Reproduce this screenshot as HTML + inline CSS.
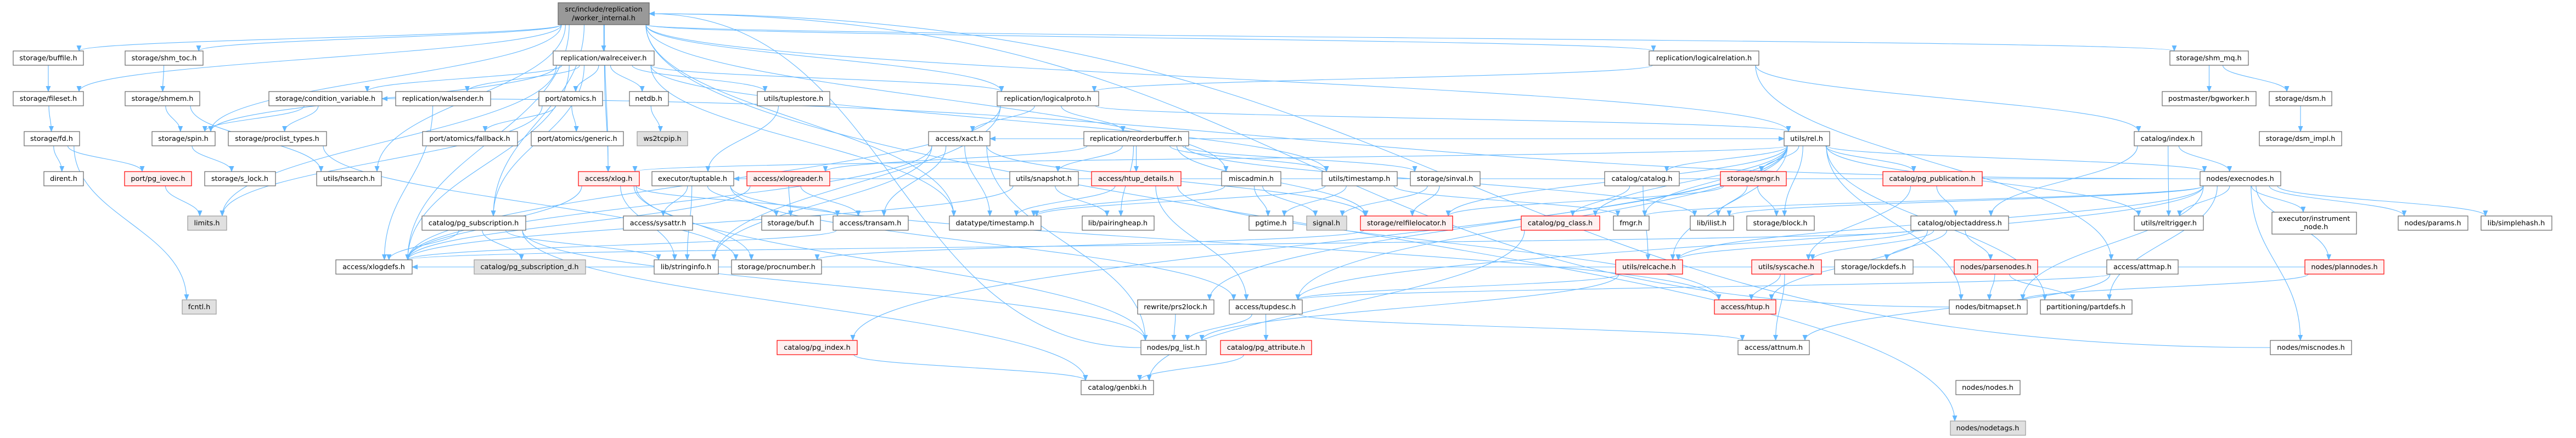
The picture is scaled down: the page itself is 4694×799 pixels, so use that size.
<!DOCTYPE html>
<html><head><meta charset="utf-8">
<style>
html,body{margin:0;padding:0;background:#fff;}
svg{display:block;}
text{font-family:"DejaVu Sans","Liberation Sans",sans-serif;font-size:12.8px;fill:#000;text-anchor:middle;}
.n rect{fill:#fff;stroke:#666;stroke-width:1.2;}
.r rect{fill:#fff0f0;stroke:#f00;stroke-width:1.2;}
.g rect{fill:#e0e0e0;stroke:#999;stroke-width:1.2;}
.root rect{fill:#999;stroke:#666;stroke-width:1.2;}
#edges path{fill:none;stroke:#63b8ff;stroke-width:1.1;}
</style></head>
<body>
<svg id="svg" width="4694" height="799" viewBox="0 0 4694 799" xmlns="http://www.w3.org/2000/svg">
<defs><marker id="ah" markerWidth="11" markerHeight="9" refX="10" refY="4.5" orient="auto" markerUnits="userSpaceOnUse"><path d="M0,0 L11,4.5 L0,9 Z" fill="#63b8ff"/></marker></defs>
<g id="edges"></g>
<g id="nodes">
<g class="root" id="root"><rect x="1017" y="5" width="166" height="40"/><text x="1100" y="21">src/include/replication</text><text x="1100" y="37">/worker_internal.h</text></g>
<g class="n" id="buffile"><rect x="24" y="93" width="128" height="26"/><text x="88" y="110">storage/buffile.h</text></g>
<g class="n" id="shm_toc"><rect x="228" y="93" width="142" height="26"/><text x="299" y="110">storage/shm_toc.h</text></g>
<g class="n" id="walreceiver"><rect x="1008" y="93" width="184" height="26"/><text x="1100" y="110">replication/walreceiver.h</text></g>
<g class="n" id="logicalrelation"><rect x="3005" y="93" width="200" height="26"/><text x="3105" y="110">replication/logicalrelation.h</text></g>
<g class="n" id="shm_mq"><rect x="3954" y="93" width="143" height="26"/><text x="4025" y="110">storage/shm_mq.h</text></g>
<g class="n" id="fileset"><rect x="24" y="167" width="128" height="26"/><text x="88" y="184">storage/fileset.h</text></g>
<g class="n" id="shmem"><rect x="228" y="167" width="136" height="26"/><text x="296" y="184">storage/shmem.h</text></g>
<g class="n" id="condvar"><rect x="490" y="167" width="206" height="26"/><text x="593" y="184">storage/condition_variable.h</text></g>
<g class="n" id="walsender"><rect x="721" y="167" width="173" height="26"/><text x="807" y="184">replication/walsender.h</text></g>
<g class="n" id="atomics"><rect x="982" y="167" width="116" height="26"/><text x="1040" y="184">port/atomics.h</text></g>
<g class="n" id="netdb"><rect x="1147" y="167" width="71" height="26"/><text x="1182" y="184">netdb.h</text></g>
<g class="n" id="tuplestore"><rect x="1380" y="167" width="132" height="26"/><text x="1446" y="184">utils/tuplestore.h</text></g>
<g class="n" id="logicalproto"><rect x="1817" y="167" width="185" height="26"/><text x="1909" y="184">replication/logicalproto.h</text></g>
<g class="n" id="bgworker"><rect x="3940" y="167" width="171" height="26"/><text x="4025" y="184">postmaster/bgworker.h</text></g>
<g class="n" id="dsm"><rect x="4135" y="167" width="114" height="26"/><text x="4192" y="184">storage/dsm.h</text></g>
<g class="n" id="fd"><rect x="44" y="240" width="101" height="26"/><text x="94" y="257">storage/fd.h</text></g>
<g class="n" id="spin"><rect x="277" y="240" width="115" height="26"/><text x="334" y="257">storage/spin.h</text></g>
<g class="n" id="proclist"><rect x="416" y="240" width="179" height="26"/><text x="505" y="257">storage/proclist_types.h</text></g>
<g class="n" id="fallback"><rect x="770" y="240" width="173" height="26"/><text x="856" y="257">port/atomics/fallback.h</text></g>
<g class="n" id="generic"><rect x="968" y="240" width="168" height="26"/><text x="1052" y="257">port/atomics/generic.h</text></g>
<g class="g" id="ws2tcpip"><rect x="1161" y="240" width="92" height="26"/><text x="1207" y="257">ws2tcpip.h</text></g>
<g class="n" id="xact"><rect x="1692" y="240" width="112" height="26"/><text x="1748" y="257">access/xact.h</text></g>
<g class="n" id="reorderbuffer"><rect x="1975" y="240" width="191" height="26"/><text x="2070" y="257">replication/reorderbuffer.h</text></g>
<g class="n" id="rel"><rect x="3251" y="240" width="83" height="26"/><text x="3292" y="257">utils/rel.h</text></g>
<g class="n" id="index"><rect x="3889" y="240" width="123" height="26"/><text x="3950" y="257">catalog/index.h</text></g>
<g class="n" id="dsm_impl"><rect x="4117" y="240" width="150" height="26"/><text x="4192" y="257">storage/dsm_impl.h</text></g>
<g class="n" id="dirent"><rect x="80" y="313" width="72" height="26"/><text x="116" y="330">dirent.h</text></g>
<g class="r" id="pg_iovec"><rect x="227" y="313" width="122" height="26"/><text x="288" y="330">port/pg_iovec.h</text></g>
<g class="n" id="s_lock"><rect x="373" y="313" width="129" height="26"/><text x="437" y="330">storage/s_lock.h</text></g>
<g class="n" id="hsearch"><rect x="577" y="313" width="118" height="26"/><text x="636" y="330">utils/hsearch.h</text></g>
<g class="r" id="xlog"><rect x="1054" y="313" width="111" height="26"/><text x="1109" y="330">access/xlog.h</text></g>
<g class="n" id="tuptable"><rect x="1188" y="313" width="149" height="26"/><text x="1262" y="330">executor/tuptable.h</text></g>
<g class="r" id="xlogreader"><rect x="1361" y="313" width="151" height="26"/><text x="1436" y="330">access/xlogreader.h</text></g>
<g class="n" id="snapshot"><rect x="1840" y="313" width="125" height="26"/><text x="1902" y="330">utils/snapshot.h</text></g>
<g class="r" id="htup_details"><rect x="1989" y="313" width="163" height="26"/><text x="2070" y="330">access/htup_details.h</text></g>
<g class="n" id="miscadmin"><rect x="2226" y="313" width="108" height="26"/><text x="2280" y="330">miscadmin.h</text></g>
<g class="n" id="utimestamp"><rect x="2409" y="313" width="137" height="26"/><text x="2477" y="330">utils/timestamp.h</text></g>
<g class="n" id="sinval"><rect x="2570" y="313" width="127" height="26"/><text x="2633" y="330">storage/sinval.h</text></g>
<g class="n" id="catalog"><rect x="2924" y="313" width="136" height="26"/><text x="2992" y="330">catalog/catalog.h</text></g>
<g class="r" id="smgr"><rect x="3135" y="313" width="120" height="26"/><text x="3195" y="330">storage/smgr.h</text></g>
<g class="r" id="pg_publication"><rect x="3431" y="313" width="181" height="26"/><text x="3521" y="330">catalog/pg_publication.h</text></g>
<g class="n" id="execnodes"><rect x="4009" y="313" width="147" height="26"/><text x="4082" y="330">nodes/execnodes.h</text></g>
<g class="g" id="limits"><rect x="342" y="394" width="71" height="26"/><text x="377" y="411">limits.h</text></g>
<g class="n" id="pg_subscription"><rect x="769" y="394" width="189" height="26"/><text x="863" y="411">catalog/pg_subscription.h</text></g>
<g class="n" id="sysattr"><rect x="1136" y="394" width="126" height="26"/><text x="1199" y="411">access/sysattr.h</text></g>
<g class="n" id="buf"><rect x="1388" y="394" width="107" height="26"/><text x="1441" y="411">storage/buf.h</text></g>
<g class="n" id="transam"><rect x="1518" y="394" width="137" height="26"/><text x="1586" y="411">access/transam.h</text></g>
<g class="n" id="dtimestamp"><rect x="1730" y="394" width="167" height="26"/><text x="1813" y="411">datatype/timestamp.h</text></g>
<g class="n" id="pairingheap"><rect x="1972" y="394" width="131" height="26"/><text x="2037" y="411">lib/pairingheap.h</text></g>
<g class="n" id="pgtime"><rect x="2276" y="394" width="80" height="26"/><text x="2316" y="411">pgtime.h</text></g>
<g class="g" id="signal"><rect x="2381" y="394" width="73" height="26"/><text x="2417" y="411">signal.h</text></g>
<g class="r" id="relfilelocator"><rect x="2479" y="394" width="168" height="26"/><text x="2563" y="411">storage/relfilelocator.h</text></g>
<g class="r" id="pg_class"><rect x="2772" y="394" width="143" height="26"/><text x="2843" y="411">catalog/pg_class.h</text></g>
<g class="n" id="fmgr"><rect x="2940" y="394" width="65" height="26"/><text x="2972" y="411">fmgr.h</text></g>
<g class="n" id="ilist"><rect x="3080" y="394" width="79" height="26"/><text x="3119" y="411">lib/ilist.h</text></g>
<g class="n" id="block"><rect x="3183" y="394" width="123" height="26"/><text x="3244" y="411">storage/block.h</text></g>
<g class="n" id="objectaddress"><rect x="3482" y="394" width="178" height="26"/><text x="3571" y="411">catalog/objectaddress.h</text></g>
<g class="n" id="reltrigger"><rect x="3889" y="394" width="126" height="26"/><text x="3952" y="411">utils/reltrigger.h</text></g>
<g class="n" id="instrument"><rect x="4140" y="387" width="154" height="40"/><text x="4217" y="403">executor/instrument</text><text x="4217" y="418">_node.h</text></g>
<g class="n" id="params"><rect x="4370" y="394" width="127" height="26"/><text x="4433" y="411">nodes/params.h</text></g>
<g class="n" id="simplehash"><rect x="4521" y="394" width="129" height="26"/><text x="4585" y="411">lib/simplehash.h</text></g>
<g class="n" id="xlogdefs"><rect x="612" y="474" width="139" height="26"/><text x="681" y="491">access/xlogdefs.h</text></g>
<g class="g" id="pg_subscription_d"><rect x="864" y="474" width="203" height="26"/><text x="965" y="491">catalog/pg_subscription_d.h</text></g>
<g class="n" id="stringinfo"><rect x="1192" y="474" width="117" height="26"/><text x="1250" y="491">lib/stringinfo.h</text></g>
<g class="n" id="procnumber"><rect x="1333" y="474" width="164" height="26"/><text x="1415" y="491">storage/procnumber.h</text></g>
<g class="r" id="relcache"><rect x="2944" y="474" width="122" height="26"/><text x="3005" y="491">utils/relcache.h</text></g>
<g class="r" id="syscache"><rect x="3192" y="474" width="127" height="26"/><text x="3255" y="491">utils/syscache.h</text></g>
<g class="n" id="lockdefs"><rect x="3343" y="474" width="143" height="26"/><text x="3414" y="491">storage/lockdefs.h</text></g>
<g class="r" id="parsenodes"><rect x="3561" y="474" width="152" height="26"/><text x="3637" y="491">nodes/parsenodes.h</text></g>
<g class="n" id="attmap"><rect x="3839" y="474" width="130" height="26"/><text x="3904" y="491">access/attmap.h</text></g>
<g class="r" id="plannodes"><rect x="4200" y="474" width="144" height="26"/><text x="4272" y="491">nodes/plannodes.h</text></g>
<g class="g" id="fcntl"><rect x="332" y="547" width="62" height="26"/><text x="363" y="564">fcntl.h</text></g>
<g class="n" id="prs2lock"><rect x="2073" y="547" width="139" height="26"/><text x="2142" y="564">rewrite/prs2lock.h</text></g>
<g class="n" id="tupdesc"><rect x="2240" y="547" width="133" height="26"/><text x="2306" y="564">access/tupdesc.h</text></g>
<g class="r" id="htup"><rect x="3124" y="547" width="112" height="26"/><text x="3180" y="564">access/htup.h</text></g>
<g class="n" id="bitmapset"><rect x="3552" y="547" width="142" height="26"/><text x="3623" y="564">nodes/bitmapset.h</text></g>
<g class="n" id="partdefs"><rect x="3718" y="547" width="167" height="26"/><text x="3801" y="564">partitioning/partdefs.h</text></g>
<g class="r" id="pg_index"><rect x="1416" y="621" width="146" height="26"/><text x="1489" y="638">catalog/pg_index.h</text></g>
<g class="n" id="pg_list"><rect x="2079" y="621" width="119" height="26"/><text x="2138" y="638">nodes/pg_list.h</text></g>
<g class="r" id="pg_attribute"><rect x="2224" y="621" width="166" height="26"/><text x="2307" y="638">catalog/pg_attribute.h</text></g>
<g class="n" id="attnum"><rect x="3167" y="621" width="130" height="26"/><text x="3232" y="638">access/attnum.h</text></g>
<g class="n" id="miscnodes"><rect x="4137" y="621" width="148" height="26"/><text x="4211" y="638">nodes/miscnodes.h</text></g>
<g class="n" id="genbki"><rect x="1970" y="694" width="132" height="26"/><text x="2036" y="711">catalog/genbki.h</text></g>
<g class="n" id="nodes"><rect x="3564" y="694" width="117" height="26"/><text x="3622" y="711">nodes/nodes.h</text></g>
<g class="g" id="nodetags"><rect x="3554" y="768" width="137" height="26"/><text x="3622" y="785">nodes/nodetags.h</text></g>
</g>
</svg>
<script>
(function(){
var E="root>buffile root>fileset root>shm_toc root>spin root>xlogdefs root>walreceiver root>xlog root>logicalproto root>miscadmin root>logicalrelation root>shm_mq root>dtimestamp root>rel root>pg_subscription root>hsearch "+
"walreceiver>condvar walreceiver>walsender walreceiver>atomics walreceiver>netdb walreceiver>tuplestore walreceiver>spin walreceiver>xlogdefs walreceiver>limits walreceiver>logicalproto walreceiver>xlog walreceiver>dtimestamp walreceiver>utimestamp walreceiver>pg_subscription "+
"buffile>fileset fileset>fd fd>dirent fd>pg_iovec fd>fcntl pg_iovec>limits shm_toc>shmem shmem>spin shmem>hsearch spin>s_lock condvar>spin condvar>proclist proclist>procnumber walsender>xlogdefs atomics>fallback atomics>generic atomics>limits netdb>ws2tcpip tuplestore>tuptable "+
"tuptable>sysattr tuptable>buf tuptable>htup tuptable>tupdesc tuptable>stringinfo xlogreader>buf xlogreader>transam xlogreader>xlogdefs xlog>xlogdefs xlog>stringinfo xlog>pg_list xlog>transam xlog>procnumber "+
"pg_subscription>pg_subscription_d pg_subscription>xlogdefs pg_subscription>stringinfo pg_subscription>genbki pg_subscription>pg_list transam>xlogdefs "+
"logicalproto>xact logicalproto>reorderbuffer logicalproto>rel logicalproto>xlogdefs logicalproto>stringinfo xact>xlogdefs xact>dtimestamp xact>pg_list xact>transam xact>relfilelocator xact>stringinfo "+
"reorderbuffer>snapshot reorderbuffer>htup_details reorderbuffer>pairingheap reorderbuffer>utimestamp reorderbuffer>relfilelocator reorderbuffer>ilist reorderbuffer>rel reorderbuffer>sinval reorderbuffer>xlogreader reorderbuffer>xact "+
"snapshot>pairingheap snapshot>xlogdefs htup_details>tupdesc htup_details>htup htup_details>dtimestamp miscadmin>dtimestamp miscadmin>pgtime miscadmin>signal utimestamp>dtimestamp utimestamp>fmgr utimestamp>pgtime sinval>signal sinval>relfilelocator "+
"catalog>pg_class catalog>relcache smgr>relfilelocator smgr>block smgr>ilist relfilelocator>procnumber pg_class>genbki relcache>tupdesc relcache>pg_list tupdesc>pg_list tupdesc>pg_attribute tupdesc>attnum prs2lock>pg_list pg_attribute>genbki pg_list>nodes pg_index>genbki "+
"rel>smgr rel>block rel>pg_publication rel>relcache rel>reltrigger rel>bitmapset rel>partdefs rel>pg_class rel>pg_index rel>prs2lock rel>relfilelocator rel>catalog rel>fmgr rel>tupdesc rel>xlog rel>execnodes "+
"pg_publication>objectaddress pg_publication>syscache objectaddress>lockdefs objectaddress>parsenodes objectaddress>htup objectaddress>relcache objectaddress>syscache objectaddress>xlogdefs syscache>attnum syscache>htup parsenodes>bitmapset parsenodes>partdefs "+
"attmap>attnum attmap>tupdesc bitmapset>nodes nodes>nodetags logicalrelation>logicalproto logicalrelation>index logicalrelation>attmap index>objectaddress index>execnodes index>reltrigger shm_mq>bgworker shm_mq>dsm dsm>dsm_impl "+
"execnodes>reltrigger execnodes>instrument execnodes>params execnodes>simplehash execnodes>plannodes execnodes>miscnodes execnodes>tupdesc execnodes>bitmapset execnodes>partdefs execnodes>relcache execnodes>ilist execnodes>fmgr execnodes>tuptable execnodes>condvar plannodes>bitmapset plannodes>xlogdefs miscnodes>nodes";
var g=document.getElementById('edges'),NS="http://www.w3.org/2000/svg";
function box(id){var r=document.querySelector('#'+id+' rect');return {x:+r.getAttribute('x'),y:+r.getAttribute('y'),w:+r.getAttribute('width'),h:+r.getAttribute('height')};}
E.split(/\s+/).forEach(function(e){if(!e)return;var p=e.split('>');var a=box(p[0]),b=box(p[1]);var d;
 var acx=a.x+a.w/2,bcx=b.x+b.w/2;
 if(b.y>a.y+a.h){
  var sx=Math.max(a.x+6,Math.min(a.x+a.w-6,acx+(bcx-acx)*0.15)),sy=a.y+a.h;
  var tx=Math.max(b.x+8,Math.min(b.x+b.w-8,bcx+(acx-bcx)*0.15)),ty=b.y;
  var dy=ty-sy;
  d="M"+sx+","+sy+" C"+sx+","+(sy+dy*0.45)+" "+tx+","+(ty-dy*0.45)+" "+tx+","+ty;
 } else {
  var sy2=a.y+a.h/2,ty2=b.y+b.h/2,sx2,tx2;
  if(bcx>acx){sx2=a.x+a.w;tx2=b.x;}else{sx2=a.x;tx2=b.x+b.w;}
  d="M"+sx2+","+sy2+" C"+((sx2+tx2)/2)+","+sy2+" "+((sx2+tx2)/2)+","+ty2+" "+tx2+","+ty2;
 }
 var pa=document.createElementNS(NS,'path');pa.setAttribute('d',d);pa.setAttribute('marker-end','url(#ah)');g.appendChild(pa);
});
})();
</script>
</body></html>
